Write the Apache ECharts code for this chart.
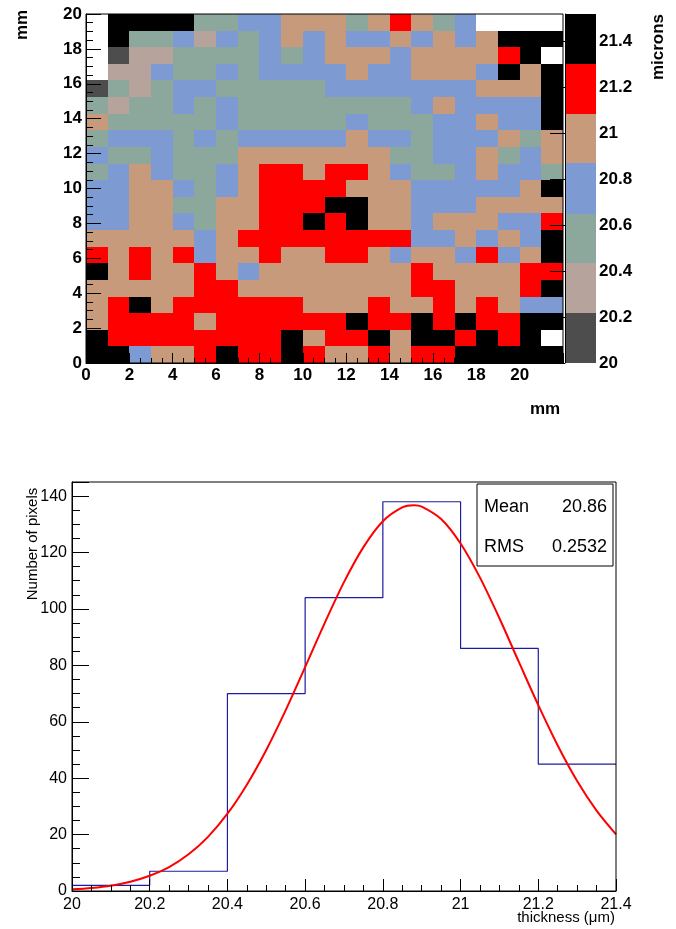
<!DOCTYPE html>
<html>
<head>
<meta charset="utf-8">
<script src="https://cdn.jsdelivr.net/npm/echarts/dist/echarts.min.js"></script>
<style>
html,body{margin:0;padding:0;background:#fff;}
#chart{width:676px;height:929px;}
</style>
</head>
<body>
<div id="chart"></div>
<script>
// ---------- Thickness map (codes per cell, top row first) ----------
// D 20-20.2  P 20.2-20.4  G 20.4-20.6  B 20.6-20.8  T 20.8-21  R 21-21.2  K >21.2  W empty
const mapRows = [
  "WKKKKGGBBTTTGTRTGBWWWW",
  "WKGGBPBGBTBTBBTBTBTKKK",
  "WDPPGGGGBGBTTTBTTTTRKW",
  "WPPBGGBGBBBBTBBTTTBKTK",
  "DGPGBBGGGGGBBBBBBBTTTK",
  "GPGGBGBGGGGGGGGBTBBBBK",
  "TGGGGGBGGGGGBGGGBBTBBK",
  "GBBBGBGBBBBBTBBGBBBTGT",
  "BGGBGGGTTTTTTTGGBBTGBT",
  "GBTBGGBTRRTRRTBGGBTBBG",
  "BBTTBGBTRRRRTTTBBBBBTK",
  "BBTTGGTTRRRKKTTBBBTTTT",
  "BBTTBGTTRRKRKTTBTTTBBR",
  "TTTTTBTRRRRRRRRBBTBTBK",
  "RTRTRBTTRTTRRTBTTBRBTK",
  "KTRTTRTBTTTTTTTRTTTTRR",
  "TTTTTRRTTTTTTTTRRTTTRK",
  "TRKTRRRRRRTTTRTTRTRTBB",
  "TRRRRTRRRRRRKRRKRKRRKK",
  "KRRRRRRRRKTRRKTKKRKRKW",
  "KKBTTRKRRKRTTRTRRKKKKK"
];
const bandCodes = "DPGBTRK";
const bandLevels = [20, 20.217, 20.434, 20.651, 20.869, 21.086, 21.303, 21.52];
const bandColors = ["#4d4d4d", "#b6a49c", "#8ca79c", "#7e9ad3", "#c89a7c", "#ff0000", "#000000"];

// ---------- Histogram ----------
const binEdges = [20, 20.2, 20.4, 20.6, 20.8, 21.0, 21.2, 21.4];
const binCounts = [2, 7, 70, 104, 138, 86, 45];
const fitX = [20.0, 20.05, 20.1, 20.15, 20.2, 20.25, 20.3, 20.35, 20.4, 20.45, 20.5, 20.55, 20.6, 20.65, 20.7, 20.75,
              20.8, 20.85, 20.88, 20.9, 20.95, 21.0, 21.05, 21.1, 21.15, 21.2, 21.25, 21.3, 21.35, 21.4];
const fitY = [0.6, 1.1, 1.9, 3.3, 5.4, 8.5, 13.0, 19.2, 27.4, 37.7, 50.0, 64.1, 79.4, 94.9, 109.5, 121.9,
              131.1, 136.0, 136.8, 136.3, 131.9, 123.2, 111.1, 96.7, 81.2, 65.9, 51.6, 39.0, 28.5, 20.1];
const statMean = "20.86";
const statRMS = "0.2532";

// ---------- build data ----------
const nRows = mapRows.length;           // 21 rows spanning 0..20 mm
const nCols = mapRows[0].length;        // 22 columns of 1 mm
const rowH = 20 / nRows;
const heatData = [];
mapRows.forEach((row, i) => {
  const r = nRows - 1 - i;
  for (let c = 0; c < row.length; c++) {
    const k = bandCodes.indexOf(row[c]);
    if (k < 0) continue;
    heatData.push([c, r, (bandLevels[k] + bandLevels[k + 1]) / 2]);
  }
});
function colorFor(v) {
  for (let i = 0; i < bandColors.length; i++) {
    if (v >= bandLevels[i] && v < bandLevels[i + 1]) return bandColors[i];
  }
  return bandColors[bandColors.length - 1];
}
const barData = bandColors.map((c, i) => [0, bandLevels[i], bandLevels[i + 1], i]);
const histData = binCounts.map((v, i) => [binEdges[i], v]);
histData.push([binEdges[binEdges.length - 1], binCounts[binCounts.length - 1]]);
const fitData = fitX.map((x, i) => [x, fitY[i]]);

const FONT = "Liberation Sans, Arial, Helvetica, sans-serif";
const fmt1 = v => String(+(+v).toFixed(1));

const chart = echarts.init(document.getElementById('chart'), null, {renderer: 'canvas'});
chart.setOption({
  animation: false,
  backgroundColor: '#fff',
  grid: [
    {left: 86, top: 14, width: 477, height: 349, show: true, borderColor: '#000', borderWidth: 1, z: 10},
    {left: 565, top: 14, width: 31, height: 349, show: false},
    {left: 72, top: 482, width: 544, height: 409, show: true, borderColor: '#000', borderWidth: 1, z: 10}
  ],
  xAxis: [
    {gridIndex: 0, type: 'value', min: 0, max: nCols, interval: 2, z: 10,
     axisLine: {show: true, lineStyle: {color: '#000', width: 1}},
     axisTick: {show: true, inside: true, length: 10, lineStyle: {color: '#000'}},
     minorTick: {show: true, splitNumber: 4, length: 5, lineStyle: {color: '#000'}},
     axisLabel: {fontFamily: FONT, fontWeight: 'bold', fontSize: 17, color: '#000', margin: 4, showMaxLabel: false},
     splitLine: {show: false}},
    {gridIndex: 1, type: 'value', min: 0, max: 1, show: false},
    {gridIndex: 2, type: 'value', min: 20, max: 21.4, interval: 0.2, z: 10,
     axisLine: {show: true, lineStyle: {color: '#000', width: 1}},
     axisTick: {show: true, inside: true, length: 12, lineStyle: {color: '#000'}},
     minorTick: {show: true, splitNumber: 4, length: 6, lineStyle: {color: '#000'}},
     axisLabel: {fontFamily: FONT, fontSize: 16, color: '#000', margin: 6, formatter: fmt1},
     splitLine: {show: false}}
  ],
  yAxis: [
    {gridIndex: 0, type: 'value', min: 0, max: 20, interval: 2, z: 10,
     axisLine: {show: true, lineStyle: {color: '#000', width: 1}},
     axisTick: {show: true, inside: true, length: 15, lineStyle: {color: '#000'}},
     minorTick: {show: true, splitNumber: 4, length: 7, lineStyle: {color: '#000'}},
     axisLabel: {fontFamily: FONT, fontWeight: 'bold', fontSize: 17, color: '#000', margin: 4},
     splitLine: {show: false}},
    {gridIndex: 1, type: 'value', position: 'right', min: bandLevels[0], max: bandLevels[bandLevels.length - 1], interval: 0.2, z: 10,
     axisLine: {show: true, lineStyle: {color: '#000', width: 1}},
     axisTick: {show: true, inside: true, length: 15, lineStyle: {color: '#000'}},
     axisLabel: {fontFamily: FONT, fontWeight: 'bold', fontSize: 17, color: '#000', margin: 3, showMaxLabel: false, formatter: fmt1},
     splitLine: {show: false}},
    {gridIndex: 2, type: 'value', min: 0, max: 145, interval: 20, z: 10,
     axisLine: {show: true, lineStyle: {color: '#000', width: 1}},
     axisTick: {show: true, inside: true, length: 17, lineStyle: {color: '#000'}},
     minorTick: {show: true, splitNumber: 4, length: 8, lineStyle: {color: '#000'}},
     axisLabel: {fontFamily: FONT, fontSize: 16, color: '#000', margin: 5, showMaxLabel: false},
     splitLine: {show: false}}
  ],
  series: [
    {type: 'custom', xAxisIndex: 0, yAxisIndex: 0, data: heatData,
     encode: {x: 0, y: 1},
     renderItem: function (params, api) {
       const x = api.value(0), y = api.value(1), v = api.value(2);
       const p0 = api.coord([x, y * rowH]);
       const p1 = api.coord([x + 1, (y + 1) * rowH]);
       const x0 = Math.round(p0[0]), x1 = Math.round(p1[0]);
       const yb = Math.round(p0[1]), yt = Math.round(p1[1]);
       return {type: 'rect', shape: {x: x0, y: yt, width: x1 - x0, height: yb - yt},
               style: {fill: colorFor(v)}};
     }},
    {type: 'custom', xAxisIndex: 1, yAxisIndex: 1, data: barData,
     encode: {x: 0, y: 1},
     renderItem: function (params, api) {
       const p0 = api.coord([0, api.value(1)]);
       const p1 = api.coord([1, api.value(2)]);
       const yb = Math.round(p0[1]), yt = Math.round(p1[1]);
       return {type: 'rect', shape: {x: p0[0], y: yt, width: p1[0] - p0[0], height: yb - yt},
               style: {fill: bandColors[api.value(3)]}};
     }},
    {type: 'line', xAxisIndex: 2, yAxisIndex: 2, data: histData, step: 'end',
     symbol: 'none', lineStyle: {color: '#1c1ca0', width: 1.2}, z: 3},
    {type: 'line', xAxisIndex: 2, yAxisIndex: 2, data: fitData, smooth: 0.3,
     symbol: 'none', lineStyle: {color: '#ff0000', width: 2}, z: 4}
  ],
  graphic: [
    {type: 'text', x: 22, y: 25, rotation: Math.PI / 2,
     style: {text: 'mm', font: 'bold 17px ' + FONT, fill: '#000', align: 'center', verticalAlign: 'middle'}},
    {type: 'text', x: 545, y: 409,
     style: {text: 'mm', font: 'bold 17px ' + FONT, fill: '#000', align: 'center', verticalAlign: 'middle'}},
    {type: 'text', x: 658, y: 47, rotation: Math.PI / 2,
     style: {text: 'microns', font: 'bold 17px ' + FONT, fill: '#000', align: 'center', verticalAlign: 'middle'}},
    {type: 'text', x: 33, y: 544, rotation: Math.PI / 2,
     style: {text: 'Number of pixels', font: '15px ' + FONT, fill: '#000', align: 'center', verticalAlign: 'middle'}},
    {type: 'text', x: 615, y: 918,
     style: {text: 'thickness (\u03bcm)', font: '15px ' + FONT, fill: '#000', align: 'right', verticalAlign: 'middle'}},
    {type: 'rect', shape: {x: 477, y: 484, width: 136, height: 82}, z: 20,
     style: {fill: '#fff', stroke: '#000', lineWidth: 1}},
    {type: 'text', x: 484, y: 507, z: 21,
     style: {text: 'Mean', font: '18px ' + FONT, fill: '#000', align: 'left', verticalAlign: 'middle'}},
    {type: 'text', x: 607, y: 507, z: 21,
     style: {text: statMean, font: '18px ' + FONT, fill: '#000', align: 'right', verticalAlign: 'middle'}},
    {type: 'text', x: 484, y: 547, z: 21,
     style: {text: 'RMS', font: '18px ' + FONT, fill: '#000', align: 'left', verticalAlign: 'middle'}},
    {type: 'text', x: 607, y: 547, z: 21,
     style: {text: statRMS, font: '18px ' + FONT, fill: '#000', align: 'right', verticalAlign: 'middle'}}
  ]
});
</script>
</body>
</html>
